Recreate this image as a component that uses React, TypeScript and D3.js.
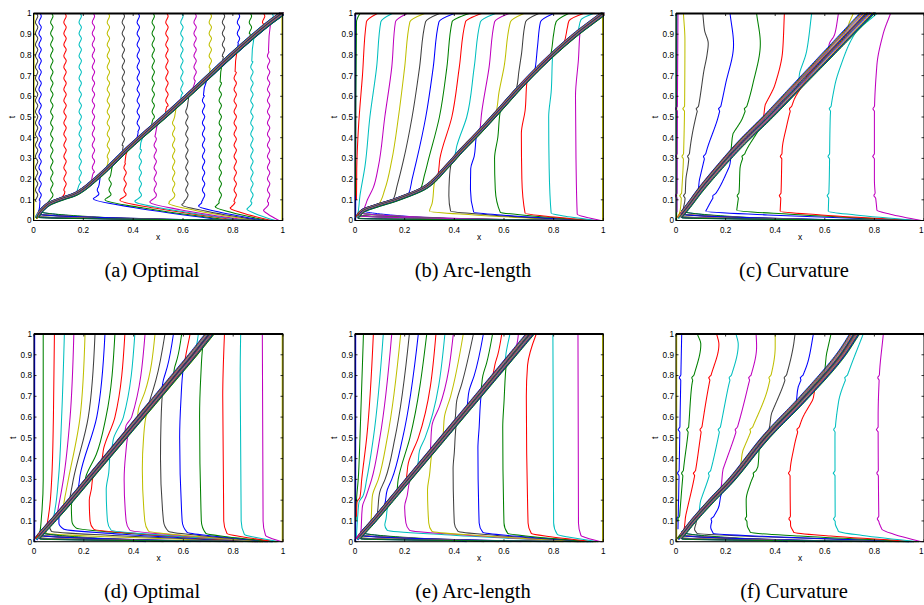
import React from 'react';
import * as d3 from 'd3';

type Pt = [number, number]; // [x, t]

// MATLAB default line colour order: b g r c m y k
const lineColors = ['#0000ff', '#008000', '#ff0000', '#00bfbf', '#bf00bf', '#bfbf00', '#404040'];

const xTickValues = [0, 0.2, 0.4, 0.6, 0.8, 1];
const xTickLabels = ['0', '0.2', '0.4', '0.6', '0.8', '1'];
const tTickValues = [0, 0.1, 0.2, 0.3, 0.4, 0.5, 0.6, 0.7, 0.8, 0.9, 1];
const tTickLabels = ['0', '0.1', '0.2', '0.3', '0.4', '0.5', '0.6', '0.7', '0.8', '0.9', '1'];

// nodes travelling inside the front bundle (shared by all panels)
const bundleSpread = [-1, -0.87, -0.73, -0.6, -0.47, -0.33, -0.2, -0.07, 0.07, 0.2, 0.33, 0.47, 0.6, 0.73, 0.87, 1];
const bundleStartX = [0.45, 0.52, 0.58, 0.63, 0.67, 0.71, 0.75, 0.78, 0.81, 0.84, 0.87, 0.9, 0.92, 0.94, 0.96, 0.98];
const bundleSweepT = [0.042, 0.038, 0.034, 0.031, 0.028, 0.025, 0.023, 0.021, 0.019, 0.017, 0.015, 0.013, 0.011, 0.009, 0.007, 0.005];
// lane of the bundle that a node joins when it meets the front
const joinLane = [-0.9, -0.4, -0.7, -0.1, -0.55, -0.25, -0.8, 0.1, -0.45, -0.65, 0.3, -0.15, -0.95, 0.2, -0.35, -0.6, 0.0, -0.75];

// ---------- (a) Optimal
const A_front: Pt[] = [[0.012, 0.01], [0.03, 0.045], [0.06, 0.078], [0.11, 0.103], [0.17, 0.128], [0.25, 0.2], [0.39, 0.36], [0.54, 0.518], [0.67, 0.66], [0.8, 0.805], [0.935, 0.944], [0.997, 1.0]];
const A_behindX = [0.012, 0.026, 0.073, 0.126, 0.187, 0.24, 0.3, 0.36, 0.42, 0.48, 0.535, 0.595, 0.648, 0.709, 0.762, 0.822, 0.87, 0.923, 0.957];
const A_behindLowT = [0.09, 0.095, 0.11, 0.14, 0.18, 0.23, 0.295, 0.36, 0.425, 0.49, 0.55, 0.61, 0.67, 0.735, 0.79, 0.855, 0.9, 0.95, 0.978];
const A_aheadX = [0.26, 0.307, 0.367, 0.428, 0.488, 0.562, 0.615, 0.682, 0.749, 0.809, 0.876, 0.943];
const A_aheadKinkT = [0.105, 0.1, 0.098, 0.09, 0.087, 0.083, 0.076, 0.07, 0.066, 0.06, 0.055, 0.05];
const A_aheadTopT = [0.16, 0.21, 0.28, 0.345, 0.41, 0.485, 0.54, 0.605, 0.67, 0.72, 0.77, 0.82];
const A_aheadX0 = [0.78, 0.8, 0.83, 0.85, 0.87, 0.89, 0.91, 0.925, 0.94, 0.955, 0.97, 0.985];
const A_wiggle = [0, 0.0035, 0.0055, 0.003, -0.002, -0.0045, -0.003];
const A_wigglePeriod = 0.054;

// ---------- (b) Arc-length
const B_front: Pt[] = [[0.008, 0.015], [0.03, 0.045], [0.09, 0.072], [0.165, 0.1], [0.29, 0.165], [0.37, 0.26], [0.43, 0.34], [0.495, 0.42], [0.57, 0.518], [0.678, 0.662], [0.785, 0.79], [0.89, 0.9], [0.95, 0.955], [0.995, 0.995]];
const B_behind: Pt[][] = [
  [[0.002, 0.12], [0.003, 0.5], [0.006, 0.96], [0.02, 1]],
  [[0.006, 0.1], [0.007, 0.25], [0.014, 0.45], [0.03, 0.7], [0.046, 0.96], [0.09, 1]],
  [[0.02, 0.12], [0.04, 0.26], [0.06, 0.5], [0.087, 0.74], [0.104, 0.96], [0.15, 1]],
  [[0.05, 0.1], [0.074, 0.16], [0.094, 0.26], [0.12, 0.5], [0.148, 0.74], [0.163, 0.96], [0.21, 1]],
  [[0.12, 0.15], [0.148, 0.29], [0.175, 0.5], [0.2, 0.74], [0.221, 0.96], [0.28, 1]],
  [[0.17, 0.17], [0.195, 0.29], [0.23, 0.5], [0.26, 0.74], [0.284, 0.96], [0.34, 1]],
  [[0.23, 0.2], [0.248, 0.29], [0.285, 0.5], [0.315, 0.74], [0.338, 0.96], [0.4, 1]],
  [[0.28, 0.22], [0.295, 0.29], [0.34, 0.5], [0.37, 0.74], [0.391, 0.96], [0.46, 1]],
  [[0.342, 0.3], [0.39, 0.5], [0.42, 0.74], [0.445, 0.96], [0.51, 1]],
  [[0.41, 0.36], [0.45, 0.5], [0.48, 0.74], [0.505, 0.96], [0.565, 1]],
  [[0.51, 0.52], [0.54, 0.74], [0.562, 0.96], [0.62, 1]],
  [[0.58, 0.62], [0.6, 0.74], [0.626, 0.96], [0.68, 1]],
  [[0.66, 0.72], [0.67, 0.8], [0.687, 0.96], [0.74, 1]],
  [[0.735, 0.84], [0.747, 0.96], [0.8, 1]],
  [[0.8, 0.9], [0.81, 0.96], [0.86, 1]],
  [[0.855, 0.93], [0.862, 0.965], [0.92, 1]],
  [[0.91, 0.97], [0.96, 1]],
];
const B_ahead: Pt[][] = [
  [[0.3, 0.045], [0.31, 0.08]],
  [[0.385, 0.045], [0.378, 0.12], [0.38, 0.2]],
  [[0.478, 0.04], [0.465, 0.15], [0.466, 0.25], [0.48, 0.31]],
  [[0.585, 0.04], [0.565, 0.15], [0.562, 0.3], [0.575, 0.4]],
  [[0.685, 0.035], [0.672, 0.2], [0.67, 0.42], [0.685, 0.53]],
  [[0.79, 0.035], [0.782, 0.25], [0.78, 0.5], [0.79, 0.62]],
  [[0.895, 0.03], [0.89, 0.3], [0.888, 0.6], [0.9, 0.78]],
];
const B_aheadX0 = [0.9, 0.92, 0.94, 0.955, 0.97, 0.98, 0.99];

// ---------- (c) Curvature
const C_front: Pt[] = [[0.01, 0.01], [0.05, 0.07], [0.1, 0.15], [0.17, 0.25], [0.26, 0.37], [0.37, 0.5], [0.47, 0.625], [0.57, 0.75], [0.67, 0.875], [0.77, 1.0]];
const C_behind: Pt[][] = [
  [[0.003, 0.04], [0.004, 1]],
  [[0.004, 0.04], [0.006, 0.6], [0.008, 1]],
  [[0.02, 0.08], [0.03, 0.3], [0.035, 0.6], [0.036, 0.87], [0.03, 1]],
  [[0.03, 0.06], [0.036, 0.1], [0.04, 0.2], [0.048, 0.26], [0.058, 0.36], [0.066, 0.42], [0.08, 0.5], [0.092, 0.56], [0.1, 0.62], [0.112, 0.72], [0.125, 0.8], [0.13, 0.855], [0.115, 0.92], [0.108, 1]],
  [[0.095, 0.2], [0.124, 0.34], [0.17, 0.5], [0.2, 0.66], [0.232, 0.85], [0.218, 1]],
  [[0.23, 0.42], [0.27, 0.5], [0.31, 0.66], [0.34, 0.855], [0.325, 1]],
  [[0.36, 0.56], [0.4, 0.66], [0.43, 0.82], [0.437, 1]],
  [[0.5, 0.72], [0.527, 0.82], [0.547, 1]],
  [[0.62, 0.86], [0.64, 0.9], [0.655, 1]],
  [[0.7, 0.96], [0.715, 1]],
];
const C_ahead: Pt[][] = [
  [[0.12, 0.045], [0.14, 0.09], [0.18, 0.17], [0.215, 0.26]],
  [[0.245, 0.05], [0.255, 0.15], [0.258, 0.25], [0.28, 0.33], [0.33, 0.43]],
  [[0.42, 0.045], [0.424, 0.15], [0.428, 0.34], [0.445, 0.45], [0.475, 0.58], [0.52, 0.67]],
  [[0.614, 0.045], [0.618, 0.2], [0.622, 0.5], [0.64, 0.65], [0.665, 0.75], [0.72, 0.9], [0.81, 1.0]],
  [[0.81, 0.05], [0.8, 0.2], [0.8, 0.5], [0.81, 0.75], [0.835, 0.9], [0.865, 1.0]],
];
const C_aheadX0 = [0.95, 0.96, 0.97, 0.98, 0.99];
const C_notchT = [0.12, 0.31, 0.54];

// ---------- (d) Optimal
const D_front: Pt[] = [[0.01, 0.01], [0.03, 0.04], [0.075, 0.1], [0.148, 0.2], [0.218, 0.3], [0.288, 0.4], [0.358, 0.5], [0.428, 0.6], [0.498, 0.7], [0.568, 0.8], [0.638, 0.9], [0.705, 1.0]];
const D_behind: Pt[][] = [
  [[0.03, 0.12], [0.037, 0.3], [0.037, 0.6], [0.037, 1]],
  [[0.06, 0.14], [0.071, 0.3], [0.078, 0.6], [0.082, 1]],
  [[0.085, 0.16], [0.098, 0.3], [0.111, 0.6], [0.122, 1]],
  [[0.1, 0.18], [0.118, 0.3], [0.145, 0.6], [0.16, 1]],
  [[0.125, 0.22], [0.138, 0.3], [0.185, 0.6], [0.205, 1]],
  [[0.15, 0.25], [0.158, 0.3], [0.218, 0.6], [0.245, 1]],
  [[0.185, 0.32], [0.252, 0.6], [0.285, 1]],
  [[0.21, 0.32], [0.25, 0.42], [0.289, 0.6], [0.325, 1]],
  [[0.28, 0.45], [0.325, 0.6], [0.365, 1]],
  [[0.32, 0.5], [0.359, 0.6], [0.405, 1]],
  [[0.37, 0.56], [0.392, 0.6], [0.446, 1]],
  [[0.42, 0.64], [0.445, 0.72], [0.486, 1]],
  [[0.47, 0.7], [0.49, 0.78], [0.526, 1]],
  [[0.52, 0.78], [0.535, 0.84], [0.56, 1]],
  [[0.565, 0.84], [0.575, 0.88], [0.593, 1]],
  [[0.61, 0.9], [0.615, 0.93], [0.627, 1]],
  [[0.655, 0.96], [0.66, 1]],
];
const D_ahead: Pt[][] = [
  [[0.05, 0.04], [0.045, 0.06]],
  [[0.07, 0.05], [0.062, 0.075]],
  [[0.12, 0.06], [0.1, 0.09], [0.1, 0.12]],
  [[0.17, 0.065], [0.152, 0.1], [0.15, 0.17]],
  [[0.24, 0.06], [0.225, 0.1], [0.222, 0.2], [0.23, 0.25]],
  [[0.31, 0.055], [0.295, 0.1], [0.29, 0.25], [0.3, 0.33]],
  [[0.385, 0.055], [0.37, 0.1], [0.362, 0.3], [0.368, 0.42]],
  [[0.46, 0.05], [0.445, 0.1], [0.435, 0.35], [0.44, 0.5]],
  [[0.54, 0.05], [0.52, 0.1], [0.508, 0.4], [0.51, 0.57]],
  [[0.615, 0.045], [0.595, 0.1], [0.585, 0.5], [0.59, 0.68]],
  [[0.69, 0.04], [0.672, 0.1], [0.665, 0.6], [0.67, 0.8]],
  [[0.775, 0.04], [0.762, 0.1], [0.758, 0.7], [0.765, 1.0]],
  [[0.845, 0.035], [0.832, 0.1], [0.828, 0.8], [0.83, 1.0]],
  [[0.93, 0.03], [0.92, 0.1], [0.917, 1.0]],
];
const D_aheadX0 = [0.88, 0.89, 0.9, 0.91, 0.92, 0.93, 0.94, 0.95, 0.955, 0.96, 0.97, 0.975, 0.985, 0.995];

// ---------- (e) Arc-length
const E_front: Pt[] = [[0.01, 0.01], [0.03, 0.04], [0.075, 0.1], [0.145, 0.2], [0.215, 0.3], [0.285, 0.4], [0.355, 0.5], [0.425, 0.6], [0.495, 0.7], [0.565, 0.8], [0.635, 0.9], [0.705, 1.0]];
const E_behind: Pt[][] = [
  [[0.004, 0.1], [0.006, 0.2], [0.013, 0.3], [0.02, 0.5], [0.034, 1]],
  [[0.006, 0.12], [0.008, 0.19], [0.02, 0.215], [0.027, 0.3], [0.047, 0.5], [0.074, 1]],
  [[0.012, 0.14], [0.016, 0.19], [0.032, 0.22], [0.047, 0.3], [0.074, 0.5], [0.114, 1]],
  [[0.03, 0.17], [0.045, 0.22], [0.067, 0.3], [0.1, 0.5], [0.148, 1]],
  [[0.07, 0.22], [0.094, 0.3], [0.13, 0.5], [0.184, 1]],
  [[0.1, 0.24], [0.121, 0.3], [0.161, 0.5], [0.219, 1]],
  [[0.13, 0.25], [0.148, 0.3], [0.192, 0.5], [0.255, 1]],
  [[0.174, 0.3], [0.221, 0.5], [0.289, 1]],
  [[0.215, 0.38], [0.255, 0.5], [0.326, 1]],
  [[0.26, 0.44], [0.282, 0.5], [0.362, 1]],
  [[0.31, 0.56], [0.34, 0.65], [0.396, 1]],
  [[0.36, 0.6], [0.385, 0.7], [0.436, 1]],
  [[0.41, 0.68], [0.43, 0.76], [0.477, 1]],
  [[0.46, 0.73], [0.48, 0.8], [0.517, 1]],
  [[0.515, 0.8], [0.53, 0.86], [0.554, 1]],
  [[0.565, 0.86], [0.575, 0.9], [0.591, 1]],
  [[0.61, 0.92], [0.615, 0.95], [0.624, 1]],
  [[0.655, 0.97], [0.658, 1]],
];
const E_ahead: Pt[][] = [
  [[0.13, 0.055], [0.12, 0.08], [0.125, 0.11]],
  [[0.22, 0.055], [0.205, 0.09], [0.2, 0.17], [0.21, 0.22]],
  [[0.31, 0.05], [0.297, 0.09], [0.292, 0.25], [0.3, 0.32]],
  [[0.415, 0.05], [0.4, 0.09], [0.395, 0.35], [0.4, 0.43]],
  [[0.515, 0.045], [0.5, 0.09], [0.495, 0.45], [0.5, 0.55]],
  [[0.615, 0.04], [0.6, 0.09], [0.595, 0.55], [0.6, 0.67]],
  [[0.71, 0.04], [0.697, 0.09], [0.69, 0.7], [0.695, 0.85], [0.73, 1.0]],
  [[0.815, 0.035], [0.8, 0.09], [0.797, 1.0]],
  [[0.91, 0.03], [0.9, 0.09], [0.898, 1.0]],
];
const E_aheadX0 = [0.9, 0.91, 0.925, 0.94, 0.95, 0.96, 0.97, 0.98, 0.99];

// ---------- (f) Curvature
const F_front: Pt[] = [[0.01, 0.01], [0.03, 0.04], [0.07, 0.1], [0.145, 0.2], [0.225, 0.3], [0.36, 0.5], [0.52, 0.7], [0.665, 0.9], [0.72, 1.0]];
const F_behind: Pt[][] = [
  [[0.008, 0.06], [0.012, 0.3], [0.018, 0.7], [0.023, 1]],
  [[0.013, 0.1], [0.03, 0.345], [0.05, 0.54], [0.063, 0.746], [0.1, 0.95], [0.086, 1]],
  [[0.04, 0.13], [0.077, 0.33], [0.103, 0.54], [0.137, 0.78], [0.173, 0.95], [0.164, 1]],
  [[0.1, 0.2], [0.137, 0.33], [0.177, 0.54], [0.211, 0.746], [0.251, 0.95], [0.242, 1]],
  [[0.19, 0.35], [0.245, 0.54], [0.29, 0.746], [0.325, 0.94], [0.323, 1]],
  [[0.27, 0.44], [0.305, 0.54], [0.372, 0.746], [0.4, 0.94], [0.4, 1]],
  [[0.386, 0.62], [0.44, 0.78], [0.473, 0.94], [0.48, 1]],
  [[0.493, 0.746], [0.534, 0.875], [0.554, 1]],
  [[0.608, 0.91], [0.625, 1]],
];
const F_ahead: Pt[][] = [
  [[0.085, 0.04], [0.075, 0.06], [0.08, 0.085]],
  [[0.15, 0.04], [0.14, 0.07], [0.145, 0.1], [0.17, 0.16]],
  [[0.3, 0.045], [0.287, 0.08], [0.283, 0.2], [0.3, 0.28], [0.33, 0.36]],
  [[0.475, 0.045], [0.462, 0.08], [0.46, 0.33], [0.475, 0.45], [0.507, 0.586], [0.55, 0.68]],
  [[0.655, 0.05], [0.642, 0.09], [0.641, 0.5], [0.655, 0.67], [0.7, 0.83], [0.755, 1.0]],
  [[0.83, 0.06], [0.818, 0.1], [0.815, 0.6], [0.82, 0.8], [0.836, 1.0]],
];
const F_aheadX0 = [0.94, 0.95, 0.96, 0.97, 0.98, 0.99];
const F_notchT = [0.11, 0.33, 0.54, 0.79];

// vertical curves of panel (a) built from their x positions
const A_behind: Pt[][] = A_behindX.map((x, i) => [[x, A_behindLowT[i]], [x, 1]] as Pt[]);
const A_ahead: Pt[][] = A_aheadX.map((x, i) => [[x - 0.02, A_aheadKinkT[i]], [x, A_aheadKinkT[i] + 0.03], [x, A_aheadTopT[i]]] as Pt[]);

type Decor = ((t: number) => number) | null;

const wiggle = (pattern: number[], period: number): Decor => (t) => {
  if (t < 0.09) return 0;
  const u = ((t / period) % 1) * pattern.length;
  const i = Math.floor(u);
  const f = u - i;
  const a = pattern[i % pattern.length], b = pattern[(i + 1) % pattern.length];
  return a + (b - a) * f;
};
const notches = (ts: number[]): Decor => (t) => {
  let v = 0;
  ts.forEach((tn) => { v = Math.max(v, 1 - Math.abs(t - tn) / 0.012); });
  return -0.007 * v;
};

interface PanelCfg {
  id: string; caption: string;
  left: number; right: number; top: number; bottom: number; capX: number; capY: number;
  front: Pt[]; behind: Pt[][]; ahead: Pt[][]; aheadX0: number[];
  behindColor: number; aheadColor: number; bundleWidth: number; bundleFan: number;
  edgeLeft: string | null; edgeRight: string | null; decor: Decor;
}

const TOP_T = 13.5, TOP_B = 220.5, BOT_T = 334, BOT_B = 541.7;

const panels: PanelCfg[] = [
  { id: 'a', caption: '(a) Optimal', left: 33.5, right: 282.7, top: TOP_T, bottom: TOP_B, capX: 152, capY: 277,
    front: A_front, behind: A_behind, ahead: A_ahead, aheadX0: A_aheadX0, behindColor: 6, aheadColor: 0,
    bundleWidth: 0.0055, bundleFan: 0.3, edgeLeft: lineColors[5], edgeRight: lineColors[5], decor: wiggle(A_wiggle, A_wigglePeriod) },
  { id: 'b', caption: '(b) Arc-length', left: 355, right: 603.3, top: TOP_T, bottom: TOP_B, capX: 473, capY: 277,
    front: B_front, behind: B_behind, ahead: B_ahead, aheadX0: B_aheadX0, behindColor: 1, aheadColor: 5,
    bundleWidth: 0.0055, bundleFan: 0.3, edgeLeft: lineColors[0], edgeRight: lineColors[5], decor: null },
  { id: 'c', caption: '(c) Curvature', left: 676, right: 924, top: TOP_T, bottom: TOP_B, capX: 794, capY: 277,
    front: C_front, behind: C_behind, ahead: C_ahead, aheadX0: C_aheadX0, behindColor: 3, aheadColor: 0,
    bundleWidth: 0.007, bundleFan: 1.4, edgeLeft: lineColors[1], edgeRight: null, decor: notches(C_notchT) },
  { id: 'd', caption: '(d) Optimal', left: 34, right: 283, top: BOT_T, bottom: BOT_B, capX: 152, capY: 598,
    front: D_front, behind: D_behind, ahead: D_ahead, aheadX0: D_aheadX0, behindColor: 1, aheadColor: 5,
    bundleWidth: 0.007, bundleFan: 0.6, edgeLeft: lineColors[0], edgeRight: lineColors[5], decor: null },
  { id: 'e', caption: '(e) Arc-length', left: 355, right: 603.3, top: BOT_T, bottom: BOT_B, capX: 473, capY: 598,
    front: E_front, behind: E_behind, ahead: E_ahead, aheadX0: E_aheadX0, behindColor: 1, aheadColor: 3,
    bundleWidth: 0.0065, bundleFan: 0.6, edgeLeft: lineColors[0], edgeRight: lineColors[5], decor: null },
  { id: 'f', caption: '(f) Curvature', left: 676, right: 924, top: BOT_T, bottom: BOT_B, capX: 794, capY: 598,
    front: F_front, behind: F_behind, ahead: F_ahead, aheadX0: F_aheadX0, behindColor: 0, aheadColor: 6,
    bundleWidth: 0.007, bundleFan: 0.9, edgeLeft: lineColors[5], edgeRight: null, decor: notches(F_notchT) },
];

// monotone cubic x(t) through the points
function hermite(pts: Pt[]): (t: number) => number {
  const n = pts.length;
  const ts = pts.map((p) => p[1]);
  const xs = pts.map((p) => p[0]);
  const d: number[] = [];
  for (let i = 0; i < n - 1; i++) d.push((xs[i + 1] - xs[i]) / (ts[i + 1] - ts[i]));
  const m = xs.map((_, i) => {
    if (i === 0) return d[0];
    if (i === n - 1) return d[n - 2];
    return d[i - 1] * d[i] <= 0 ? 0 : 2 / (1 / d[i - 1] + 1 / d[i]);
  });
  return (t: number) => {
    let i = 0;
    while (i < n - 2 && t > ts[i + 1]) i++;
    const h = ts[i + 1] - ts[i];
    const s = (t - ts[i]) / h;
    const s2 = s * s, s3 = s2 * s;
    return (2 * s3 - 3 * s2 + 1) * xs[i] + (s3 - 2 * s2 + s) * h * m[i] + (-2 * s3 + 3 * s2) * xs[i + 1] + (s3 - s2) * h * m[i + 1];
  };
}

function clean(pts: Pt[]): Pt[] {
  const out: Pt[] = [];
  let last = -Infinity;
  pts.forEach((p) => { if (p[1] > last + 1e-5) { out.push(p); last = p[1]; } });
  return out;
}

function densify(anch: Pt[], decor: Decor): Pt[] {
  if (!decor || anch.length < 2) return anch;
  const f = hermite(anch);
  const t0 = anch[0][1], t1 = anch[anch.length - 1][1];
  const out: Pt[] = [anch[0]];
  for (let t = t0 + 0.004; t < t1 - 0.002; t += 0.004) out.push([f(t) + decor(t), t]);
  out.push(anch[anch.length - 1]);
  return out;
}

// points along the front, shifted sideways by k bundle half-widths
function frontSamples(cfg: PanelCfg, k: number): Pt[] {
  const front = cfg.front;
  const f = hermite(front);
  const n = front.length;
  const t0 = front[0][1], t1 = front[n - 1][1];
  const out: Pt[] = [];
  for (let t = t0; t < t1; t += 0.01) out.push([f(t), t]);
  out.push(front[n - 1]);
  const s = (front[n - 1][0] - front[n - 2][0]) / (front[n - 1][1] - front[n - 2][1]);
  out.push([front[n - 1][0] + s * 0.06, t1 + 0.06]);
  return out.map(([x, t]) => {
    const d = k * cfg.bundleWidth * (1 + cfg.bundleFan * t);
    return [x + d, t - d] as Pt;
  });
}

const GAP = 0.03;

function behindPath(cfg: PanelCfg, anch: Pt[], i: number): Pt[] {
  const first = anch[0];
  const lane = joinLane[i % joinLane.length];
  const f = frontSamples(cfg, lane).filter((p) => p[1] < first[1] - GAP && p[0] < first[0] - 0.006);
  return clean([...f, ...densify(anch, cfg.decor)]);
}

function aheadPath(cfg: PanelCfg, anch: Pt[], x0: number, i: number): Pt[] {
  const k = anch[0];
  const last = anch[anch.length - 1];
  const lane = -joinLane[(i + 5) % joinLane.length];
  const tail: Pt[] = [[x0, 0], [k[0] + (x0 - k[0]) * 0.3, k[1] * 0.6]];
  const f = last[1] >= 0.999 ? [] : frontSamples(cfg, lane).filter((p) => p[1] > last[1] + GAP && p[0] > last[0] + 0.006);
  return clean([...tail, ...densify(anch, cfg.decor), ...f]);
}

function bundlePath(cfg: PanelCfg, j: number): Pt[] {
  const f = frontSamples(cfg, bundleSpread[j]).filter((p) => p[1] > bundleSweepT[j]);
  return clean([[bundleStartX[j], 0], ...f]);
}

const AXIS_FONT = '"Liberation Sans", Arial, Helvetica, sans-serif';
const CAPTION_FONT = '"Liberation Serif", "Times New Roman", serif';

function Panel({ cfg }: { cfg: PanelCfg }) {
  const x = d3.scaleLinear().domain([0, 1]).range([cfg.left, cfg.right]);
  const y = d3.scaleLinear().domain([0, 1]).range([cfg.bottom, cfg.top]);
  const line = d3.line<Pt>().x((d) => x(d[0])).y((d) => y(d[1])).curve(d3.curveMonotoneY);

  const curves: { d: string; color: string; w: number }[] = [];
  cfg.behind.forEach((anch, i) => curves.push({ d: line(behindPath(cfg, anch, i)) || '', color: lineColors[(cfg.behindColor + i) % 7], w: 1.05 }));
  cfg.ahead.forEach((anch, i) => curves.push({ d: line(aheadPath(cfg, anch, cfg.aheadX0[i], i)) || '', color: lineColors[(cfg.aheadColor + i) % 7], w: 1.05 }));
  bundleSpread.forEach((_, j) => curves.push({ d: line(bundlePath(cfg, j)) || '', color: lineColors[j % 7], w: 0.95 }));

  const clipId = `clip-${cfg.id}`;
  const tick = 2.5;
  const midX = (cfg.left + cfg.right) / 2;
  const midY = (cfg.top + cfg.bottom) / 2;

  return (
    <g>
      <defs>
        <clipPath id={clipId}>
          <rect x={cfg.left - 1} y={cfg.top - 1} width={cfg.right - cfg.left + 2} height={cfg.bottom - cfg.top + 2} />
        </clipPath>
      </defs>
      <g clipPath={`url(#${clipId})`} fill="none">
        {cfg.edgeLeft && <line x1={x(0) + 0.5} x2={x(0) + 0.5} y1={y(0)} y2={y(1)} stroke={cfg.edgeLeft} strokeWidth={1.4} />}
        {cfg.edgeRight && <line x1={x(1) - 0.5} x2={x(1) - 0.5} y1={y(0)} y2={y(1)} stroke={cfg.edgeRight} strokeWidth={1.6} />}
        {curves.map((c, i) => <path key={i} d={c.d} stroke={c.color} strokeWidth={c.w} />)}
      </g>
      <rect x={cfg.left} y={cfg.top} width={cfg.right - cfg.left} height={cfg.bottom - cfg.top} fill="none" stroke="#000" strokeWidth={1} />
      <line x1={cfg.left} x2={cfg.right} y1={cfg.top} y2={cfg.top} stroke="#000" strokeWidth={1.8} />
      <g stroke="#000" strokeWidth={0.8}>
        {xTickValues.map((v) => (
          <g key={`x${v}`}>
            <line x1={x(v)} x2={x(v)} y1={cfg.bottom} y2={cfg.bottom - tick} />
            <line x1={x(v)} x2={x(v)} y1={cfg.top} y2={cfg.top + tick} />
          </g>
        ))}
        {tTickValues.map((v) => (
          <g key={`t${v}`}>
            <line x1={cfg.left} x2={cfg.left + tick} y1={y(v)} y2={y(v)} />
            <line x1={cfg.right} x2={cfg.right - tick} y1={y(v)} y2={y(v)} />
          </g>
        ))}
      </g>
      <g fontFamily={AXIS_FONT} fontSize={8.2} fill="#000">
        {xTickValues.map((v, i) => {
          const px = x(v);
          const atEdge = px > 918;
          return (
            <text key={`xl${v}`} x={atEdge ? 923.5 : px} y={cfg.bottom + 12.5} textAnchor={atEdge ? 'end' : 'middle'}>{xTickLabels[i]}</text>
          );
        })}
        {tTickValues.map((v, i) => (
          <text key={`tl${v}`} x={cfg.left - 2} y={y(v) + 2.9} textAnchor="end">{tTickLabels[i]}</text>
        ))}
        <text x={midX} y={cfg.bottom + 19.5} textAnchor="middle" fontSize={8.5}>x</text>
        <text transform={`translate(${cfg.left - 18.5},${midY}) rotate(-90)`} textAnchor="middle" fontSize={8.5}>t</text>
      </g>
      <text x={cfg.capX} y={cfg.capY} textAnchor="middle" fontFamily={CAPTION_FONT} fontSize={20.5} fill="#000">{cfg.caption}</text>
    </g>
  );
}

export default function App() {
  return (
    <svg width={924} height={605} viewBox="0 0 924 605" style={{ position: 'absolute', left: 0, top: 0, background: '#fff' }}>
      <rect width={924} height={605} fill="#fff" />
      {panels.map((p) => <Panel key={p.id} cfg={p} />)}
    </svg>
  );
}
